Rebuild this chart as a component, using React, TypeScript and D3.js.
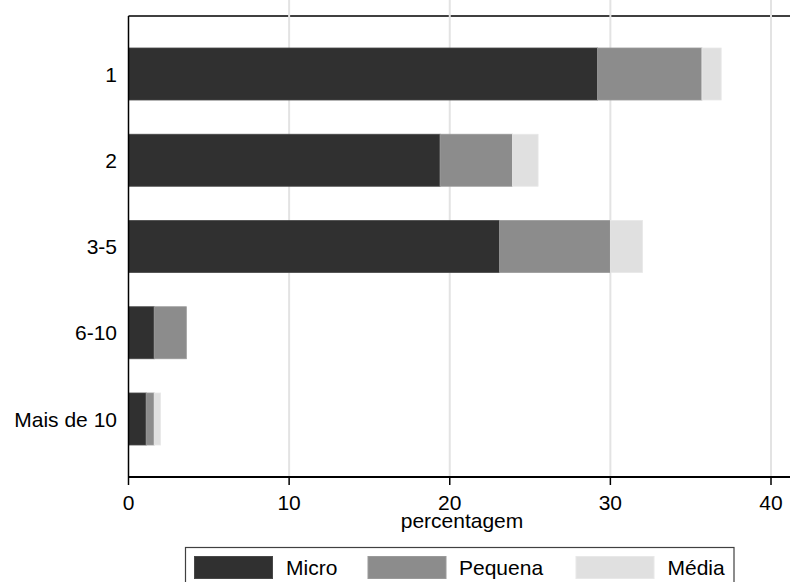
import React from "react";
import * as d3 from "d3";

const categories = ["1", "2", "3-5", "6-10", "Mais de 10"];
const seriesNames = ["Micro", "Pequena", "Média"];
const micro = [29.2, 19.4, 23.1, 1.6, 1.1];
const pequena = [6.5, 4.5, 6.9, 2.0, 0.5];
const media = [1.2, 1.6, 2.0, 0, 0.4];
const xTicks = [0, 10, 20, 30, 40];
const xTitle = "percentagem";

const fills = ["#303030", "#8c8c8c", "#e0e0e0"];
const strokes = ["#484848", "#9a9a9a", "#e8e8e8"];
const FONT = "Liberation Sans, Arial, sans-serif";

export default function App() {
  const W = 790, H = 582;
  const left = 128.5, top = 16, bottom = 477, rightEdge = 790;
  const x = d3.scaleLinear().domain([0, 40]).range([left, 771]);
  const y = d3.scaleBand<string>().domain(categories).range([top, bottom]).paddingInner(0.397).paddingOuter(0.371);

  const rows = categories.map((c, i) => ({ cat: c, Micro: micro[i], Pequena: pequena[i], "Média": media[i] }));
  const stacked = d3.stack<any>().keys(seriesNames)(rows);

  const legendItems = [
    { name: "Micro", sx: 194.5, tx: 286 },
    { name: "Pequena", sx: 368, tx: 459 },
    { name: "Média", sx: 576, tx: 667.5 },
  ];

  return (
    <svg width={W} height={H} style={{ position: "absolute", left: 0, top: 0, background: "#fff" }} fontFamily={FONT}>
      <rect x={0} y={0} width={W} height={H} fill="#fff" />
      {/* frame top line */}
      <line x1={left} x2={rightEdge} y1={top} y2={top} stroke="#000" strokeWidth={1.5} />
      {/* gridlines */}
      {xTicks.filter((t) => t > 0).map((t) => (
        <line key={t} x1={x(t)} x2={x(t)} y1={0} y2={bottom} stroke="#e3e3e3" strokeWidth={2} />
      ))}
      {/* bars */}
      {stacked.map((s, si) =>
        s.map((d, i) => {
          const w = x(d[1]) - x(d[0]);
          if (w <= 0) return null;
          return (
            <rect
              key={`${si}-${i}`}
              x={x(d[0])}
              y={y(categories[i])}
              width={w}
              height={y.bandwidth()}
              fill={fills[si]}
              stroke={strokes[si]}
              strokeWidth={0.8}
            />
          );
        })
      )}
      {/* y axis */}
      <line x1={left} x2={left} y1={top} y2={bottom} stroke="#000" strokeWidth={1.5} />
      {categories.map((c) => (
        <text key={c} x={117} y={(y(c) as number) + y.bandwidth() / 2} dy="0.36em" textAnchor="end" fontSize={21} fill="#000">
          {c}
        </text>
      ))}
      {/* x axis */}
      <line x1={left} x2={rightEdge} y1={bottom} y2={bottom} stroke="#000" strokeWidth={2} />
      {xTicks.map((t) => (
        <g key={t}>
          <line x1={x(t)} x2={x(t)} y1={bottom} y2={485} stroke="#000" strokeWidth={1.5} />
          <text x={x(t)} y={510} textAnchor="middle" fontSize={21} fill="#000">
            {t}
          </text>
        </g>
      ))}
      <text x={462} y={528} textAnchor="middle" fontSize={21} fill="#000">
        {xTitle}
      </text>
      {/* legend */}
      <rect x={185.5} y={547.5} width={548.5} height={50} fill="#fff" stroke="#404040" strokeWidth={1.2} />
      {legendItems.map((it, i) => (
        <g key={it.name}>
          <rect x={it.sx} y={556.5} width={78} height={22} fill={fills[i]} stroke={strokes[i]} strokeWidth={1} />
          <text x={it.tx} y={575} fontSize={21} fill="#000">
            {it.name}
          </text>
        </g>
      ))}
    </svg>
  );
}
